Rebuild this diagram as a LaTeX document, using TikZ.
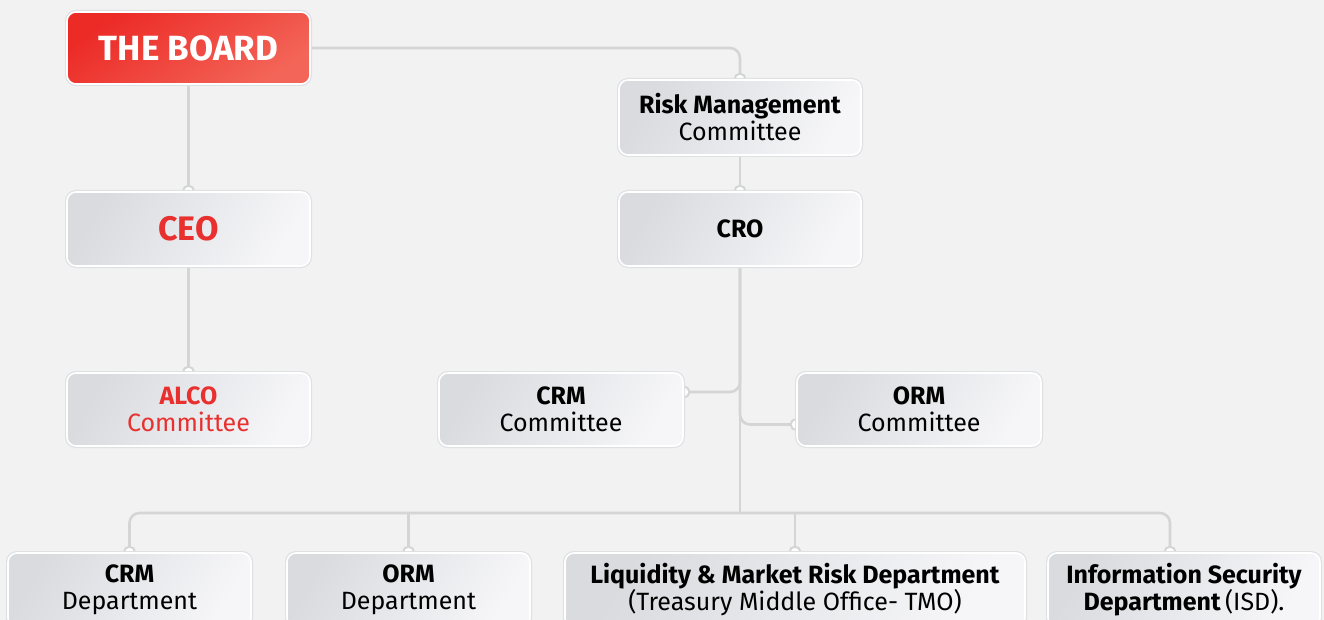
\documentclass[tikz,border=0pt]{standalone}
\usepackage{fontspec}
\setmainfont{Fira Sans}
\usetikzlibrary{calc}
\definecolor{bgc}{HTML}{F2F2F2}
\definecolor{linec}{HTML}{D5D5D5}
\definecolor{redt}{HTML}{E8302E}
\definecolor{boxdark}{HTML}{D9DBDE}
\definecolor{boxlight}{HTML}{F6F6F9}
\definecolor{boxedge}{HTML}{DEE1E4}
\definecolor{reddark}{HTML}{EC2A26}
\definecolor{redlight}{HTML}{F36558}
\pgfdeclarelayer{bg}
\pgfdeclarelayer{edges}
\pgfsetlayers{bg,edges,main}
\tikzset{
  orgbox/.style={rounded corners=9pt, minimum height=74pt, inner sep=0pt,
    preaction={draw=boxedge, line width=4pt},
    draw=white, line width=1.6pt,
    top color=boxdark, bottom color=boxlight, shading angle=60,
    align=center, text=black, font=\fontsize{25}{27}\selectfont},
  redbox/.style={orgbox, top color=reddark, bottom color=redlight, shading angle=35, text=white},
  conn/.style={draw=linec, line width=2.6pt, rounded corners=10pt},
  endring/.style={draw=linec, line width=2pt, fill=white, circle, minimum size=11pt, inner sep=0pt}
}
\begin{document}
\begin{tikzpicture}[x=1pt, y=-1pt]
  \begin{pgfonlayer}{bg}
    \fill[bgc] (0,0) rectangle (1324,620);
  \end{pgfonlayer}
  \useasboundingbox (0,0) rectangle (1324,620);

  % top levels
  \node[redbox, minimum width=243pt, minimum height=72pt] (board) at (188.5,48)
    {\fontsize{35}{38}\selectfont\bfseries THE BOARD};
  \node[orgbox, minimum width=242pt, minimum height=75pt] (rmc) at (740,117.5)
    {\textbf{Risk Management}\\Committee};
  \node[orgbox, minimum width=243pt] (ceo) at (188.5,229)
    {\fontsize{34}{36}\selectfont\bfseries\color{redt}CEO};
  \node[orgbox, minimum width=242pt] (cro) at (740,229) {\textbf{CRO}};

  % committees
  \node[orgbox, minimum width=243pt, minimum height=73pt, text=redt] (alco) at (188.5,409.5)
    {\textbf{ALCO}\\Committee};
  \node[orgbox, minimum width=244pt, minimum height=73pt] (crmc) at (561,409.5)
    {\textbf{CRM}\\Committee};
  \node[orgbox, minimum width=244pt, minimum height=73pt] (ormc) at (919,409.5)
    {\textbf{ORM}\\Committee};

  % departments
  \node[orgbox, minimum width=243pt] (crmd) at (129.5,590) {\textbf{CRM}\\Department};
  \node[orgbox, minimum width=243pt] (ormd) at (408.5,590) {\textbf{ORM}\\Department};
  \node[orgbox, minimum width=460pt] (lmrd) at (795,590)
    {\textbf{Liquidity \& Market Risk Department}\\(Treasury Middle Office- TMO)};
  \node[orgbox, minimum width=272pt] (isd) at (1184,590)
    {\textbf{Information Security}\\\textbf{Department}\,(ISD).};

  \coordinate (bus) at (740,513);
  \coordinate (isdin) at ([xshift=-14pt]isd.north);
  \coordinate (crmin) at ([yshift=17.5pt]crmc.east);
  \coordinate (ormin) at ([yshift=-15pt]ormc.west);

  \begin{pgfonlayer}{edges}
    \draw[conn] (board.east) -| (rmc.north);
    \draw[conn] (board.south) -- (ceo.north);
    \draw[conn] (ceo.south) -- (alco.north);
    \draw[conn] (rmc.south) -- (cro.north);
    \draw[conn] (cro.south) -- (bus);
    \draw[conn] (crmin) -| (cro.south);
    \draw[conn] (ormin) -| (cro.south);
    \draw[conn] (crmd.north) |- (bus) -| (isdin);
    \draw[conn] (ormd.north) -- (ormd.north |- bus);
    \draw[conn] (lmrd.north) -- (lmrd.north |- bus);
    % connector end rings
    \foreach \p in {rmc.north, ceo.north, alco.north, cro.north, crmin, ormin,
                    crmd.north, ormd.north, lmrd.north, isdin}
      \node[endring] at (\p) {};
  \end{pgfonlayer}
\end{tikzpicture}
\end{document}
